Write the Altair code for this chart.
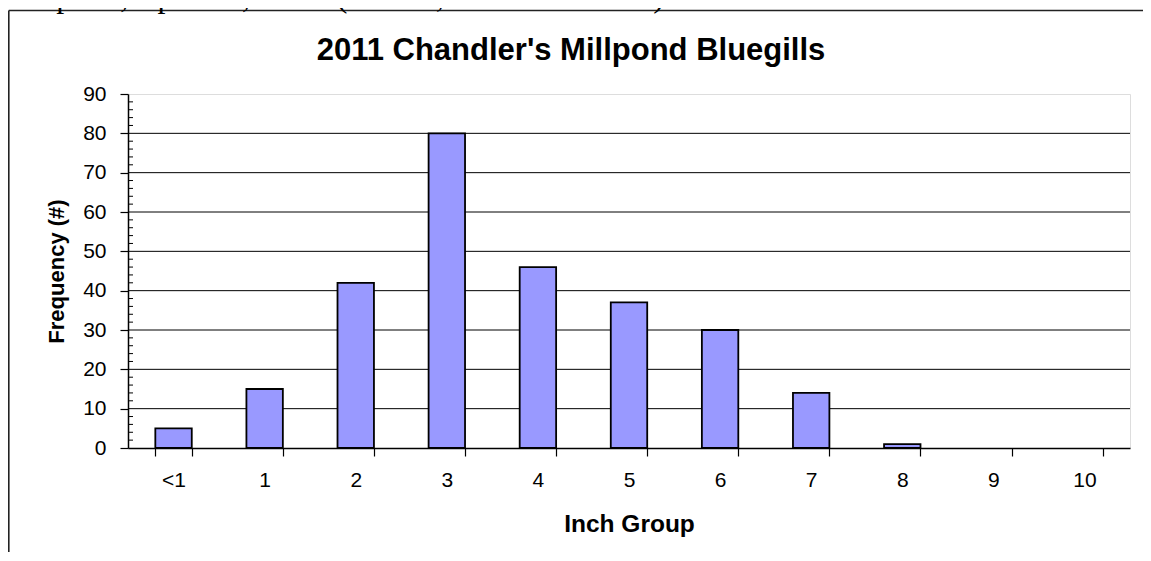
import altair as alt
import pandas as pd

# ---- data ----
inch_groups = ["<1", "1", "2", "3", "4", "5", "6", "7", "8", "9", "10"]
frequency = [5, 15, 42, 80, 46, 37, 30, 14, 1, 0, 0]
y_major_ticks = [0, 10, 20, 30, 40, 50, 60, 70, 80, 90]
y_gridlines = [10, 20, 30, 40, 50, 60, 70, 80]
y_minor_ticks = [v for v in range(0, 91, 2) if v % 10 != 0]

chart_title = "2011 Chandler's Millpond Bluegills"
caption_text = "Millpond, April 27, 2011.  (N: 270; CPUE: 405 f/hr)"

SANS = "Liberation Sans"
SERIF = "Liberation Serif"

W, H = 1002, 354
PAD = {"left": 120, "top": 86, "right": 13, "bottom": 104}

bars_df = pd.DataFrame({"group": inch_groups, "freq": frequency})
grid_df = pd.DataFrame({"freq": y_gridlines})
minor_df = pd.DataFrame({"freq": y_minor_ticks})
one = pd.DataFrame({"a": [0]})

yscale = alt.Scale(domain=[0, 90], nice=False)
xscale = alt.Scale(domain=inch_groups, paddingInner=0.6, paddingOuter=0.3)

y_axis = alt.Axis(
    title="Frequency (#)",
    values=y_major_ticks,
    grid=False,
    labelFont=SANS,
    labelFontSize=21,
    labelColor="black",
    labelPadding=14,
    tickSize=8,
    tickColor="black",
    tickWidth=1.2,
    domainColor="black",
    domainWidth=1.5,
    titleFont=SANS,
    titleFontSize=22,
    titleFontWeight="bold",
    titleColor="black",
    titlePadding=14,
)

x_axis = alt.Axis(
    title="Inch Group",
    labelAngle=0,
    labelFont=SANS,
    labelFontSize=21,
    labelColor="black",
    labelPadding=13,
    tickSize=8,
    tickColor="black",
    tickWidth=1.2,
    tickBand="extent",
    domainColor="black",
    domainWidth=1.5,
    titleFont=SANS,
    titleFontSize=24.5,
    titleFontWeight="bold",
    titleColor="black",
    titlePadding=22,
)

Y = alt.Y("freq:Q", scale=yscale, axis=y_axis)

grid = alt.Chart(grid_df).mark_rule(color="black", strokeWidth=1).encode(y=Y)

bars = alt.Chart(bars_df).mark_bar(
    color="#9999FF", stroke="black", strokeWidth=1.8
).encode(
    x=alt.X("group:N", sort=inch_groups, scale=xscale, axis=x_axis),
    y=Y,
).transform_filter("datum.freq > 0")

minor = alt.Chart(minor_df).mark_rule(color="black", strokeWidth=1).encode(
    y=Y,
    x=alt.value(0),
    x2=alt.value(5),
)

# outer chart-area border (top and left edges visible in the reference)
frame_top = alt.Chart(one).mark_rule(color="#222222", strokeWidth=1.6).encode(
    x=alt.value(-119.2), x2=alt.value(W + PAD["right"]), y=alt.value(-83.5)
)
frame_left = alt.Chart(one).mark_rule(color="#222222", strokeWidth=1.6).encode(
    x=alt.value(-119.2), y=alt.value(-83.5), y2=alt.value(H + PAD["bottom"])
)

caption = alt.Chart(one).mark_text(
    text=caption_text,
    font=SERIF,
    fontSize=32,
    align="left",
    baseline="alphabetic",
    color="black",
).encode(x=alt.value(-127), y=alt.value(-87))

title = alt.Chart(one).mark_text(
    text=chart_title,
    font=SANS,
    fontSize=31,
    fontWeight="bold",
    align="center",
    baseline="alphabetic",
    color="black",
).encode(x=alt.value(443), y=alt.value(-34.5))

chart = (
    alt.layer(grid, bars, minor, frame_top, frame_left, caption, title)
    .properties(
        width=W,
        height=H,
        padding=PAD,
        autosize=alt.AutoSizeParams(type="none"),
    )
    .configure_view(stroke="#808080", strokeWidth=1.5)
    .configure(background="white")
)

chart.save("out.html", embed_options={"renderer": "svg", "actions": False})
